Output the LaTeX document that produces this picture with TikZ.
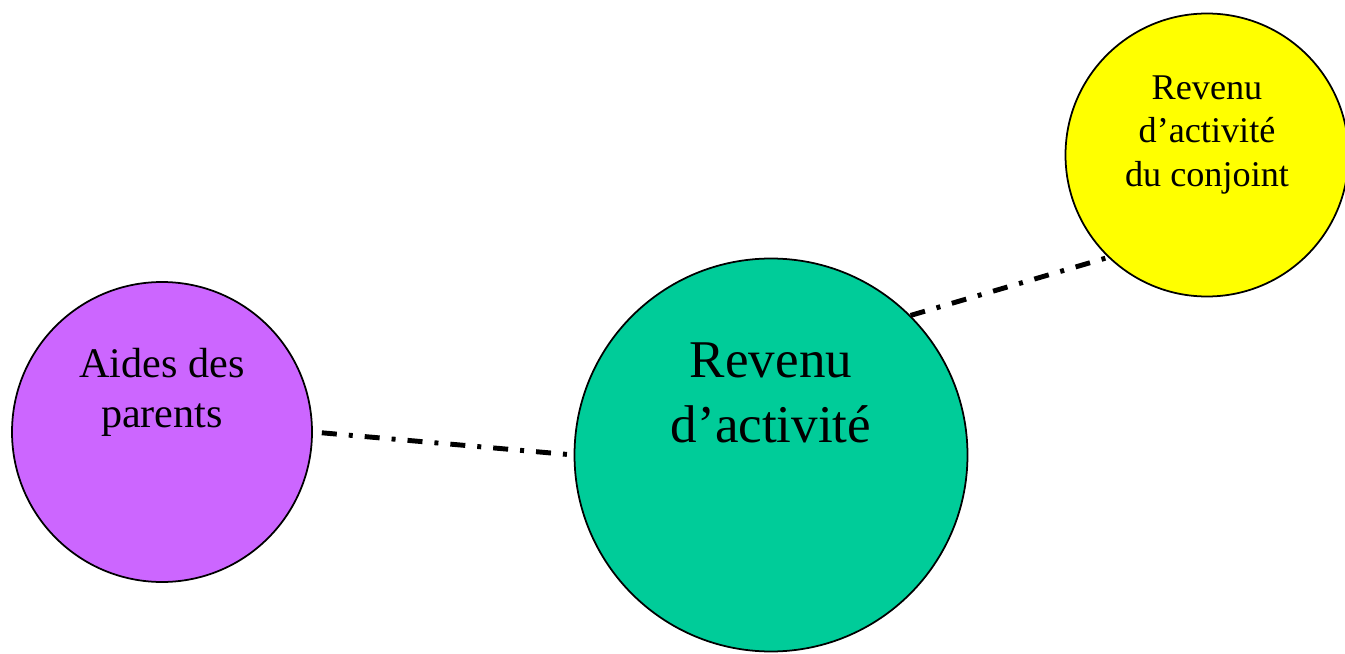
\documentclass[tikz,border=0pt]{standalone}
\usepackage{fontspec}
\setmainfont{Liberation Serif}
\usetikzlibrary{positioning}
\definecolor{violet1}{HTML}{CC66FF}
\definecolor{vert1}{HTML}{00CC99}
\definecolor{jaune1}{HTML}{FFFF00}
\begin{document}
\begin{tikzpicture}
    \useasboundingbox (0,0) rectangle (26.9,-13.08);

    \tikzstyle{cnode} = [draw=black, circle, line width=1pt, inner sep = 0pt]
    \tikzstyle{tnode} = [inner sep = 0pt, align=center]
    \tikzstyle{lien} = [line width=2.8pt, dash pattern=on 0.3cm off 0.24cm on 0.08cm off 0.24cm]

    \node[cnode, fill=violet1, minimum size=6cm] (aides) at (3.24,-8.64) {};
    \node[cnode, fill=vert1, minimum size=7.86cm] (revenu) at (15.42,-9.1) {};
    \node[cnode, fill=jaune1, minimum size=5.66cm] (conjoint) at (24.14,-3.1) {};

    \node[tnode, font=\fontsize{24}{28.4}\selectfont] (taides) at ([yshift=0.8cm]aides.center) {Aides des\\parents};
    \node[tnode, font=\fontsize{30.2}{37}\selectfont] (trevenu) at ([yshift=1.25cm]revenu.center) {Revenu\\d’activité};
    \node[tnode, font=\fontsize{20.6}{25}\selectfont] (tconjoint) at ([yshift=0.4cm]conjoint.center) {Revenu\\d’activité\\du conjoint};

    \draw[lien, shorten <=0.18cm] (aides.east) -- (revenu.west);
    \draw[lien] (revenu.45) -- (conjoint.226);

\end{tikzpicture}
\end{document}
